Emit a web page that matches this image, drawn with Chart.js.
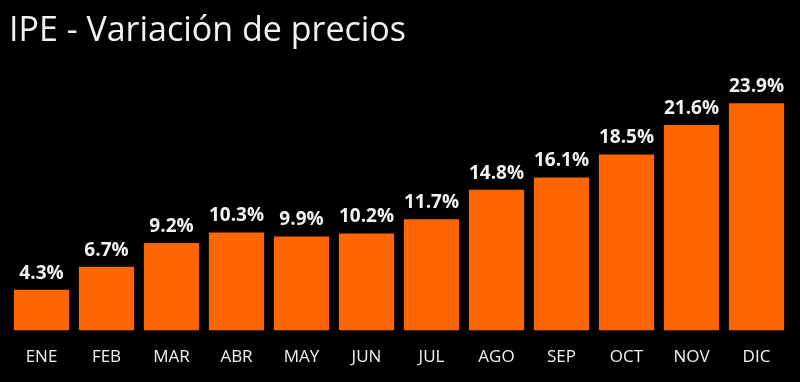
<!DOCTYPE html>
<html>
<head>
<meta charset="utf-8">
<script src="https://cdn.jsdelivr.net/npm/chart.js@4/dist/chart.umd.min.js"></script>
<style>
  html, body { margin: 0; padding: 0; background: #000; }
  #wrap { width: 800px; height: 382px; }
</style>
</head>
<body>
<div id="wrap"><canvas id="ipeChart"></canvas></div>
<script>
const months = ["ENE", "FEB", "MAR", "ABR", "MAY", "JUN", "JUL", "AGO", "SEP", "OCT", "NOV", "DIC"];
const priceChange = [4.3, 6.7, 9.2, 10.3, 9.9, 10.2, 11.7, 14.8, 16.1, 18.5, 21.6, 23.9];

const BAR_COLOUR = "#FF6600";
const TEXT_COLOUR = "#F2F2F2";

// draws the "x.x%" values above each bar
const valueLabels = {
  id: "valueLabels",
  afterDatasetsDraw(chart) {
    const ctx = chart.ctx;
    const meta = chart.getDatasetMeta(0);
    ctx.save();
    ctx.fillStyle = TEXT_COLOUR;
    ctx.font = "bold 19px 'Open Sans'";
    ctx.textAlign = "center";
    ctx.textBaseline = "bottom";
    meta.data.forEach((bar, i) => {
      ctx.fillText(priceChange[i].toFixed(1) + "%", bar.x, bar.y - 7);
    });
    ctx.restore();
  },
};

new Chart(document.getElementById("ipeChart"), {
  type: "bar",
  data: {
    labels: months,
    datasets: [
      {
        data: priceChange,
        backgroundColor: BAR_COLOUR,
        categoryPercentage: 0.85,
        barPercentage: 1.0,
      },
    ],
  },
  options: {
    responsive: true,
    maintainAspectRatio: false,
    animation: false,
    layout: {
      padding: { left: 9, right: 11, top: 0, bottom: 7 },
    },
    plugins: {
      legend: { display: false },
      tooltip: { enabled: false },
      title: {
        display: true,
        text: "IPE - Variación de precios",
        align: "start",
        color: TEXT_COLOUR,
        font: { family: "'Open Sans'", size: 34, weight: "normal" },
        padding: { top: 11, bottom: 19 },
      },
    },
    scales: {
      x: {
        grid: { display: false },
        border: { display: false },
        ticks: {
          color: TEXT_COLOUR,
          font: { family: "'Open Sans'", size: 17 },
          padding: 8,
        },
      },
      y: {
        display: false,
        min: 0,
        max: 27.3,
      },
    },
  },
  plugins: [valueLabels],
});
</script>
</body>
</html>
